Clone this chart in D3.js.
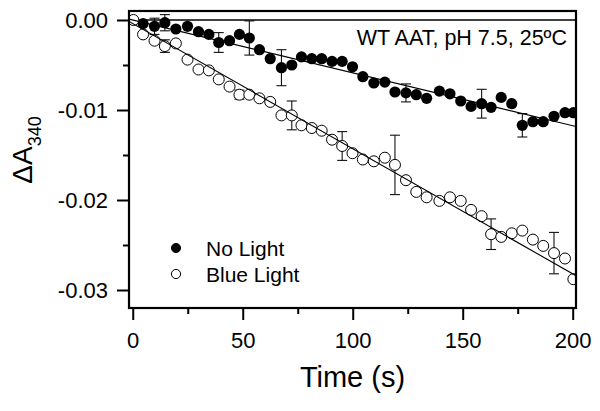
<!DOCTYPE html>
<html>
<head>
<meta charset="utf-8">
<script src="https://cdn.jsdelivr.net/npm/d3@7"></script>
<style>
  body { margin: 0; background: #fff; }
  text { font-family: "Liberation Sans", Arial, sans-serif; fill: #000; }
</style>
</head>
<body>
<script>
// time points (s)
const times = [0.3, 4.7, 9.9, 14.6, 19.6, 24.9, 29.9, 34.6, 39.1, 44.0, 48.5, 53.0, 57.6, 62.5, 67.6,
  72.3, 76.7, 81.4, 85.9, 90.6, 95.2, 99.9, 104.6, 109.6, 114.6, 119.2, 124.2, 128.9, 133.6, 139.4,
  144.2, 149.1, 153.8, 158.6, 162.9, 167.5, 172.3, 177.1, 181.9, 186.6, 191.5, 196.5, 200.3];

// no light (filled) - first time point has no value
const noLight = [null, -0.0004, -0.0007, -0.0003, -0.0010, -0.0007, -0.0013, -0.0016, -0.0025, -0.0023,
  -0.0016, -0.0020, -0.0033, -0.0043, -0.0053, -0.0050, -0.0041, -0.0043, -0.0043, -0.0046, -0.0046,
  -0.0052, -0.0063, -0.0070, -0.0069, -0.0080, -0.0081, -0.0083, -0.0087, -0.0079, -0.0082, -0.0090,
  -0.0096, -0.0093, -0.0097, -0.0086, -0.0093, -0.0117, -0.0113, -0.0113, -0.0107, -0.0103, -0.0103];

// blue light (open)
const blueLight = [0.0000, -0.0016, -0.0023, -0.0029, -0.0026, -0.0044, -0.0055, -0.0056, -0.0066, -0.0074,
  -0.0083, -0.0083, -0.0087, -0.0091, -0.0106, -0.0106, -0.0117, -0.0120, -0.0123, -0.0133, -0.0140,
  -0.0148, -0.0155, -0.0157, -0.0153, -0.0161, -0.0178, -0.0191, -0.0197, -0.0201, -0.0197, -0.0201,
  -0.0211, -0.0218, -0.0238, -0.0241, -0.0237, -0.0234, -0.0244, -0.0251, -0.0259, -0.0265, -0.0288];

// error bars: index into times, half-height
const noLightErrIdx = [2, 3, 8, 11, 14, 26, 33, 37];
const noLightErr = [0.0009, 0.0009, 0.0011, 0.0019, 0.0020, 0.0010, 0.0016, 0.0013];
const blueLightErrIdx = [3, 10, 15, 20, 25, 34, 40];
const blueLightErr = [0.0007, 0.0005, 0.0016, 0.0016, 0.0033, 0.0017, 0.0023];

// linear fits [intercept, slope]
const noLightFit = [0.0000, -0.0000587];
const blueLightFit = [-0.0004, -0.000139];

const xMajor = [0, 50, 100, 150, 200];
const xMinor = [25, 75, 125, 175];
const yMajor = [0, -0.01, -0.02, -0.03];
const yMinor = [-0.005, -0.015, -0.025];

const width = 600, height = 411;
const margin = {left: 129, right: 24, top: 11, bottom: 103};

const svg = d3.select("body").append("svg")
  .attr("width", width)
  .attr("height", height);

const x = d3.scaleLinear().domain([-1.7, 201.5]).range([margin.left, width - margin.right]);
const y = d3.scaleLinear().domain([0.001, -0.032]).range([margin.top, height - margin.bottom]);

const fmt = d => d.toFixed(2);

// clip for plot contents
svg.append("clipPath").attr("id", "clip")
  .append("rect")
  .attr("x", x.range()[0]).attr("y", y.range()[0])
  .attr("width", x.range()[1] - x.range()[0])
  .attr("height", y.range()[1] - y.range()[0]);

const plot = svg.append("g").attr("clip-path", "url(#clip)");

// zero line
plot.append("line")
  .attr("x1", x.range()[0]).attr("x2", x.range()[1])
  .attr("y1", y(0)).attr("y2", y(0))
  .attr("stroke", "#000").attr("stroke-width", 1.5);

function errorBars(idx, err, vals) {
  const g = plot.append("g").attr("stroke", "#111").attr("stroke-width", 1.1);
  idx.forEach((k, i) => {
    const cx = x(times[k]), v = vals[k];
    const y1 = y(v + err[i]), y2 = y(v - err[i]);
    g.append("line").attr("x1", cx).attr("x2", cx).attr("y1", y1).attr("y2", y2);
    g.append("line").attr("x1", cx - 5).attr("x2", cx + 5).attr("y1", y1).attr("y2", y1);
    g.append("line").attr("x1", cx - 5).attr("x2", cx + 5).attr("y1", y2).attr("y2", y2);
  });
}
errorBars(noLightErrIdx, noLightErr, noLight);
errorBars(blueLightErrIdx, blueLightErr, blueLight);

const filledData = times.map((t, i) => ({t, v: noLight[i]})).filter(d => d.v !== null);
const openData = times.map((t, i) => ({t, v: blueLight[i]}));

plot.append("g").selectAll("circle")
  .data(filledData)
  .enter().append("circle")
  .attr("cx", d => x(d.t)).attr("cy", d => y(d.v))
  .attr("r", 5.6)
  .attr("fill", "#000");

plot.append("g").selectAll("circle")
  .data(openData)
  .enter().append("circle")
  .attr("cx", d => x(d.t)).attr("cy", d => y(d.v))
  .attr("r", 5.5)
  .attr("fill", "#fff")
  .attr("stroke", "#000")
  .attr("stroke-width", 1);

// fit lines
const fitLine = d3.line().x(d => x(d[0])).y(d => y(d[1]));
[noLightFit, blueLightFit].forEach(f => {
  const ends = x.domain().map(t => [t, f[0] + f[1] * t]);
  plot.append("path")
    .attr("d", fitLine(ends))
    .attr("fill", "none")
    .attr("stroke", "#000")
    .attr("stroke-width", 1.1);
});

// axes
svg.append("g")
  .attr("transform", `translate(0,${y.range()[1]})`)
  .call(d3.axisBottom(x).tickValues(xMajor).tickSize(12).tickPadding(12).tickSizeOuter(0));
svg.append("g")
  .attr("transform", `translate(0,${y.range()[1]})`)
  .call(d3.axisBottom(x).tickValues(xMinor).tickSize(6).tickFormat("").tickSizeOuter(0));

svg.append("g")
  .attr("transform", `translate(${x.range()[0]},0)`)
  .call(d3.axisLeft(y).tickValues(yMajor).tickSize(12).tickPadding(9).tickFormat(fmt).tickSizeOuter(0));
svg.append("g")
  .attr("transform", `translate(${x.range()[0]},0)`)
  .call(d3.axisLeft(y).tickValues(yMinor).tickSize(6).tickFormat("").tickSizeOuter(0));

svg.selectAll(".domain").remove();
svg.selectAll(".tick line").attr("stroke", "#000").attr("stroke-width", 2);
svg.selectAll(".tick text")
  .style("font-family", "'Liberation Sans', Arial, sans-serif")
  .attr("font-size", 22);

// frame
svg.append("rect")
  .attr("x", x.range()[0]).attr("y", y.range()[0])
  .attr("width", x.range()[1] - x.range()[0])
  .attr("height", y.range()[1] - y.range()[0])
  .attr("fill", "none")
  .attr("stroke", "#000")
  .attr("stroke-width", 2.2);

// axis titles
svg.append("text")
  .attr("x", (x.range()[0] + x.range()[1]) / 2)
  .attr("y", 387)
  .attr("text-anchor", "middle")
  .attr("font-size", 29)
  .text("Time (s)");

const yLabel = svg.append("text")
  .attr("transform", "translate(32,150) rotate(-90)")
  .attr("text-anchor", "middle")
  .attr("font-size", 28);
yLabel.append("tspan").text("\u0394A");
yLabel.append("tspan").attr("font-size", 18).attr("dy", 9).text("340");

// annotation
svg.append("text")
  .attr("x", 567).attr("y", 45)
  .attr("text-anchor", "end")
  .attr("font-size", 21.5)
  .text("WT AAT, pH 7.5, 25\u00baC");

// legend
const legend = [
  {label: "No Light", fill: "#000", cy: 248},
  {label: "Blue Light", fill: "#fff", cy: 274}
];
const lg = svg.append("g");
lg.selectAll("circle")
  .data(legend)
  .enter().append("circle")
  .attr("cx", 176).attr("cy", d => d.cy)
  .attr("r", 4.6)
  .attr("fill", d => d.fill)
  .attr("stroke", "#000")
  .attr("stroke-width", 1);
lg.selectAll("text")
  .data(legend)
  .enter().append("text")
  .attr("x", 206).attr("y", d => d.cy + 7.5)
  .attr("font-size", 21)
  .text(d => d.label);
</script>
</body>
</html>
